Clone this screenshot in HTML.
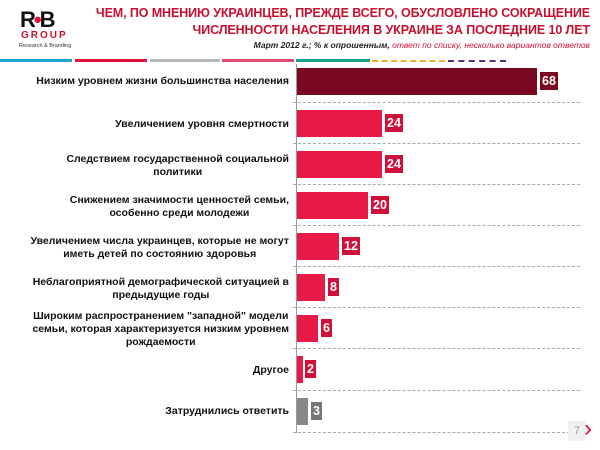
<!DOCTYPE html>
<html><head><meta charset="utf-8"><style>
*{margin:0;padding:0;box-sizing:border-box}
body{width:600px;height:450px;background:#fff;position:relative;overflow:hidden;font-family:"Liberation Sans",Arial,sans-serif}
.abs{position:absolute}
.t{right:10px;text-align:right;color:#c8102e;font-weight:bold;font-size:12.5px;line-height:17px;top:5px;letter-spacing:-0.1px}
.sub{right:10px;top:40px;font-size:8.5px;font-style:italic;font-weight:bold;color:#222}
.sub span{color:#d0103a;font-weight:normal}
.lab{right:311px;font-size:10.5px;font-weight:bold;color:#111;line-height:13px;text-align:center}
.bar{left:297px;height:27px}
.val{height:18px;color:#fff;font-weight:bold;font-size:12.5px;line-height:18px;text-align:center;padding:0 2px}
.dash{left:293px;height:0;border-top:1px dashed #aaa;width:287px}
</style></head><body>
<div class="abs" style="left:20px;top:9px;font-size:22px;font-weight:bold;letter-spacing:-2px;color:#111;line-height:22px">R<span style="color:#e0103a">•</span>B</div>
<div class="abs" style="left:21px;top:30px;font-size:10px;font-weight:bold;letter-spacing:2px;color:#c8102e">GROUP</div>
<div class="abs" style="left:19px;top:43px;font-size:5.5px;color:#333">Research &amp; Branding</div>
<div class="abs t">ЧЕМ, ПО МНЕНИЮ УКРАИНЦЕВ, ПРЕЖДЕ ВСЕГО, ОБУСЛОВЛЕНО СОКРАЩЕНИЕ<br>ЧИСЛЕННОСТИ НАСЕЛЕНИЯ В УКРАИНЕ ЗА ПОСЛЕДНИЕ 10 ЛЕТ</div>
<div class="abs sub">Март 2012 г.; % к опрошенным, <span>ответ по списку, несколько вариантов ответов</span></div>
<div class="abs" style="top:59px;left:0;width:72px;height:3px;background:#1aa6d6"></div>
<div class="abs" style="top:59px;left:75px;width:72px;height:3px;background:#e0103a"></div>
<div class="abs" style="top:59px;left:150px;width:70px;height:3px;background:#b8b8b8"></div>
<div class="abs" style="top:59px;left:222px;width:72px;height:3px;background:#e04a72"></div>
<div class="abs" style="top:59px;left:296px;width:74px;height:3px;background:#1aa08c"></div>
<div class="abs" style="top:60px;left:372px;width:73px;height:0;border-top:2px dashed #f0b030"></div>
<div class="abs" style="top:60px;left:448px;width:58px;height:0;border-top:2px dashed #5a2a7a"></div>
<div class="abs" style="left:296px;top:64px;width:1px;height:369px;background:#999"></div>

<div class="abs lab" style="top:75px">Низким уровнем жизни большинства населения</div>
<div class="abs lab" style="top:118px">Увеличением уровня смертности</div>
<div class="abs lab" style="top:153px">Следствием государственной социальной<br>политики</div>
<div class="abs lab" style="top:194px">Снижением значимости ценностей семьи,<br>особенно среди молодежи</div>
<div class="abs lab" style="top:235px">Увеличением числа украинцев, которые не могут<br>иметь детей по состоянию здоровья</div>
<div class="abs lab" style="top:276px">Неблагоприятной демографической ситуацией в<br>предыдущие годы</div>
<div class="abs lab" style="top:310px">Широким распространением "западной" модели<br>семьи, которая характеризуется низким уровнем<br>рождаемости</div>
<div class="abs lab" style="top:364px">Другое</div>
<div class="abs lab" style="top:405px">Затруднились ответить</div>

<div class="abs bar" style="top:68px;width:240px;background:#7a0a22"></div>
<div class="abs val" style="top:72px;left:540px;background:#7a0a22">68</div>
<div class="abs dash" style="top:102px"></div>
<div class="abs bar" style="top:110px;width:85px;background:#e81a47"></div>
<div class="abs val" style="top:114px;left:385px;background:#d0103a">24</div>
<div class="abs dash" style="top:143px"></div>
<div class="abs bar" style="top:151px;width:85px;background:#e81a47"></div>
<div class="abs val" style="top:155px;left:385px;background:#d0103a">24</div>
<div class="abs dash" style="top:184px"></div>
<div class="abs bar" style="top:192px;width:71px;background:#e81a47"></div>
<div class="abs val" style="top:196px;left:371px;background:#d0103a">20</div>
<div class="abs dash" style="top:225px"></div>
<div class="abs bar" style="top:233px;width:42px;background:#e81a47"></div>
<div class="abs val" style="top:237px;left:342px;background:#d0103a">12</div>
<div class="abs dash" style="top:266px"></div>
<div class="abs bar" style="top:274px;width:28px;background:#e81a47"></div>
<div class="abs val" style="top:278px;left:328px;background:#d0103a">8</div>
<div class="abs dash" style="top:307px"></div>
<div class="abs bar" style="top:315px;width:21px;background:#e81a47"></div>
<div class="abs val" style="top:319px;left:321px;background:#d0103a">6</div>
<div class="abs dash" style="top:348px"></div>
<div class="abs bar" style="top:356px;width:6px;background:#e81a47"></div>
<div class="abs val" style="top:360px;left:305px;background:#d0103a">2</div>
<div class="abs dash" style="top:390px"></div>
<div class="abs bar" style="top:398px;width:11px;background:#888"></div>
<div class="abs val" style="top:402px;left:311px;background:#777">3</div>
<div class="abs dash" style="top:432px"></div>
<div class="abs" style="left:568px;top:421px;width:18px;height:20px;background:#f0f0f0;color:#999;font-size:11px;text-align:center;line-height:20px">7</div>
<div class="abs" style="left:584px;top:416px;color:#e0103a;font-size:24px;line-height:26px">›</div>
</body></html>
